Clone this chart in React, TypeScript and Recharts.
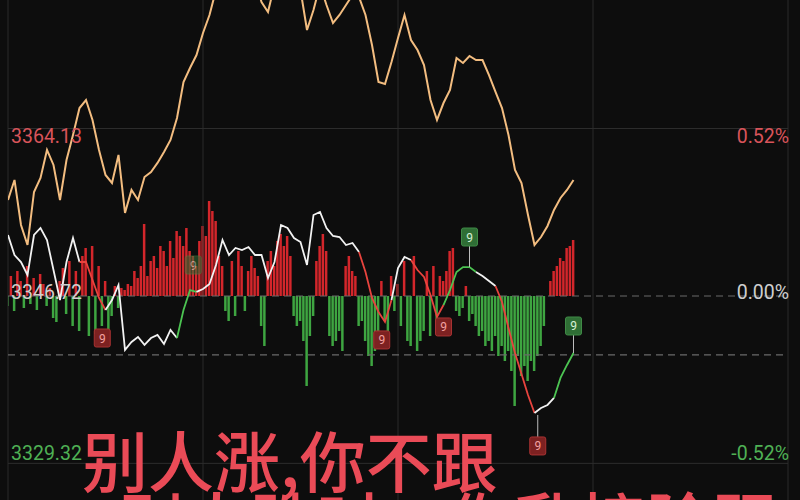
import React from 'react';
import { ComposedChart, Line, Bar, Cell, XAxis, YAxis, ReferenceLine, Scatter } from 'recharts';

const BASE = 3346.72;
const priceTicks = [3329.32, 3346.72, 3364.13];
const gridMinutes = [0, 60, 120, 180, 240];
const solidPrices = [3364.13, 3329.32];
const dashedPrices = [3346.72, 3340.6];

// orange line, one value every 2 minutes
const orange = [
  3356.70, 3358.78, 3354.10, 3352.02, 3357.53, 3358.99, 3361.90, 3360.34, 3356.70, 3360.86,
  3363.46, 3366.26, 3367.09, 3365.02, 3361.90, 3359.30, 3358.47, 3361.38, 3355.35, 3357.74,
  3356.70, 3359.09, 3359.61, 3360.55, 3361.69, 3362.94, 3365.22, 3368.97, 3370.42, 3371.77,
  3374.06, 3375.93, 3378.53, 3380.61, 3381.65, 3381.13, 3382.17, 3380.61, 3379.57, 3377.28,
  3376.24, 3379.05, 3380.61, 3381.13, 3380.09, 3378.53, 3374.37, 3376.45, 3379.05, 3376.97,
  3375.10, 3375.93, 3376.97, 3378.01, 3377.80, 3375.93, 3372.81, 3368.97, 3368.76, 3371.04,
  3373.54, 3375.93, 3373.33, 3372.29, 3370.73, 3367.09, 3365.02, 3366.78, 3368.13, 3371.46,
  3370.94, 3371.67, 3371.25, 3371.25, 3369.69, 3367.93, 3366.26, 3363.46, 3359.82, 3358.47,
  3355.14, 3352.02, 3352.85, 3354.00, 3355.66, 3356.91, 3357.74, 3358.78,
];

// main price line, one value every 2 minutes
const mainLine = [
  3353.06, 3350.98, 3350.25, 3348.90, 3353.06, 3353.79, 3352.54, 3349.42, 3346.30, 3350.25,
  3352.75, 3350.25, 3350.25, 3348.38, 3346.51, 3345.26, 3346.30, 3347.86, 3341.11, 3341.94,
  3342.46, 3341.63, 3342.35, 3342.67, 3341.73, 3343.19, 3342.35, 3345.26, 3347.34, 3347.14,
  3347.45, 3347.97, 3349.94, 3352.54, 3350.98, 3351.71, 3351.50, 3351.81, 3350.98, 3350.98,
  3348.59, 3350.25, 3354.10, 3353.79, 3352.75, 3352.33, 3349.94, 3355.14, 3355.45, 3353.79,
  3352.96, 3352.85, 3352.02, 3352.23, 3351.29, 3349.21, 3346.51, 3345.06, 3344.02, 3346.30,
  3349.63, 3350.77, 3350.46, 3349.42, 3348.70, 3346.82, 3344.54, 3345.78, 3347.34, 3349.21,
  3349.73, 3349.73, 3349.21, 3348.80, 3348.28, 3347.76, 3346.10, 3343.39, 3340.79, 3338.61,
  3336.43, 3334.56, 3335.08, 3335.39, 3336.12, 3338.20, 3339.55, 3340.79,
];

// colour segments of the main line (indices into mainLine)
const lineSegments = [
  { color: '#f2f2f2', from: 0, to: 11 },
  { color: '#e8443e', from: 11, to: 15 },
  { color: '#f2f2f2', from: 15, to: 26 },
  { color: '#4cc452', from: 26, to: 29 },
  { color: '#f2f2f2', from: 29, to: 54 },
  { color: '#e8443e', from: 54, to: 59 },
  { color: '#f2f2f2', from: 59, to: 62 },
  { color: '#e8443e', from: 62, to: 67 },
  { color: '#4cc452', from: 67, to: 72 },
  { color: '#f2f2f2', from: 72, to: 75 },
  { color: '#e8443e', from: 75, to: 81 },
  { color: '#f2f2f2', from: 81, to: 84 },
  { color: '#4cc452', from: 84, to: 87 },
];

// per-minute net flow bars (positive red, negative green)
const bars = [
  -10, 20, -15, 25, 15, -12, 30, -8, 18, -14,
  22, 12, -10, 8, -22, -26, 15, 28, -18, 35,
  -30, 25, -35, 40, 48, -40, 50, -38, 30, -30,
  15, -34, -20, 10, -12, 8, 6, 12, 10, 25,
  18, 30, 72, 20, 35, 40, 28, 50, 45, 30,
  55, 38, 65, 60, 50, 68, 45, 40, 30, 55,
  70, 60, 95, 85, 75, 40, 30, -15, -25, 35,
  -20, 45, 30, -15, 25, 40, 28, 20, -30, -50,
  35, 45, 30, 55, 62, 50, 60, 40, -20, -30,
  -25, -45, -90, -40, -20, 35, 50, 62, 45, -40,
  -50, -45, -35, -55, 30, 40, 25, 20, -30, -25,
  -45, -60, -70, -55, -40, 15, -25, -35, 20, -15,
  12, -30, 35, -45, -50, 40, -55, -45, -35, 25,
  -40, 30, -25, 20, 15, 25, 45, 48, -15, -20,
  -12, 10, -25, -18, -30, -40, -35, -50, -45, -55,
  -40, -60, -50, -65, -55, -75, -110, -60, -80, -70,
  -85, -65, -75, -60, -50, -30, 0, 15, 25, 30,
  38, 35, 48, 50, 56,
];

const markers = [
  { i: 29, p: 3342.35, kind: 'r', dim: false },
  { i: 57, p: 3349.94, kind: 'g', dim: true },
  { i: 115, p: 3342.15, kind: 'r', dim: false },
  { i: 134, p: 3343.5, kind: 'r', dim: false },
  { i: 142, p: 3352.85, kind: 'g', dim: false },
  { i: 163, p: 3331.13, kind: 'r', dim: false },
  { i: 174, p: 3343.6, kind: 'g', dim: false },
];

const connectors = [
  { i: 142, from: 3349.73, to: 3352.85 },
  { i: 163, from: 3334.35, to: 3331.13 },
  { i: 174, from: 3340.79, to: 3343.6 },
];

type Row = { [k: string]: number | undefined };
const rows: Row[] = bars.map((b, i) => {
  const r: Row = { i, bar: b };
  if (i % 2 === 0) r.orange = orange[i / 2];
  return r;
});
lineSegments.forEach((s, n) => {
  for (let k = s.from; k <= s.to; k++) {
    rows[k * 2][`s${n}`] = mainLine[k];
  }
});

const PriceTick = (props: any) => {
  const { y, payload } = props;
  const v = payload.value as number;
  const pct = (v / BASE - 1) * 100;
  const pctText = (pct < -0.001 ? '-' : '') + Math.abs(pct).toFixed(2) + '%';
  const up = v > BASE + 0.01;
  const down = v < BASE - 0.01;
  const color = up ? '#d9545a' : down ? '#4fb155' : '#cfcfcf';
  const dy = up ? 14 : down ? -3 : 3;
  const style = { fontFamily: 'Roboto, sans-serif', fontSize: 19.5 };
  return (
    <g>
      <text x={11} y={y + dy} fill={color} textAnchor="start" style={style}>{v.toFixed(2)}</text>
      <text x={789} y={y + dy} fill={color} textAnchor="end" style={style}>{pctText}</text>
    </g>
  );
};

const MarkerShape = (props: any) => {
  const { cx, cy, payload } = props;
  if (cx == null || cy == null) return null;
  const red = payload.kind === 'r';
  const fill = red ? '#7d2121' : '#2f6e35';
  const stroke = red ? '#a83232' : '#3f8a46';
  const txt = red ? '#f3a0a0' : '#d6f0d6';
  return (
    <g opacity={payload.dim ? 0.55 : 1}>
      <rect x={cx - 8} y={cy - 9} width={16} height={18} rx={2} fill={fill} stroke={stroke} strokeWidth={1} />
      <text x={cx} y={cy + 4.5} textAnchor="middle" fill={txt} style={{ fontFamily: 'Roboto, sans-serif', fontSize: 12 }}>9</text>
    </g>
  );
};

export default function App() {
  return (
    <div style={{ position: 'fixed', left: 0, top: 0, width: 800, height: 500, background: '#0d0d0d', overflow: 'hidden' }}>
      <ComposedChart width={800} height={500} data={rows} margin={{ top: 0, right: 12, bottom: 0, left: 8 }}>
        <XAxis dataKey="i" type="number" domain={[0, 240]} hide allowDataOverflow />
        <YAxis
          yAxisId="p"
          domain={[3325.51, 3377.49]}
          allowDataOverflow
          ticks={priceTicks}
          interval={0}
          mirror
          axisLine={false}
          tickLine={false}
          tick={<PriceTick />}
          width={60}
        />
        <YAxis yAxisId="b" domain={[-204, 296]} hide allowDataOverflow />
        {gridMinutes.map((m) => (
          <ReferenceLine key={`v${m}`} x={m} yAxisId="p" stroke="#2a2a2a" strokeWidth={1} />
        ))}
        {solidPrices.map((p) => (
          <ReferenceLine key={`h${p}`} y={p} yAxisId="p" stroke="#2c2c2c" strokeWidth={1} />
        ))}
        {dashedPrices.map((p) => (
          <ReferenceLine key={`d${p}`} y={p} yAxisId="p" stroke="#6a6a6a" strokeWidth={1.2} strokeDasharray="7 5" />
        ))}
        <Bar dataKey="bar" yAxisId="b" barSize={2.5} isAnimationActive={false}>
          {rows.map((r, idx) => (
            <Cell key={idx} fill={(r.bar as number) >= 0 ? '#d3262b' : '#3ea541'} />
          ))}
        </Bar>
        <Line
          dataKey="orange"
          yAxisId="p"
          type="linear"
          stroke="#f3bd80"
          strokeWidth={2}
          dot={false}
          connectNulls
          isAnimationActive={false}
        />
        {lineSegments.map((s, n) => (
          <Line
            key={`s${n}`}
            dataKey={`s${n}`}
            yAxisId="p"
            type="linear"
            stroke={s.color}
            strokeWidth={1.8}
            dot={false}
            connectNulls
            isAnimationActive={false}
          />
        ))}
        {connectors.map((c) => (
          <ReferenceLine
            key={`c${c.i}`}
            yAxisId="p"
            segment={[{ x: c.i, y: c.from }, { x: c.i, y: c.to }]}
            stroke="#bdbdbd"
            strokeWidth={1}
          />
        ))}
        <Scatter data={markers} dataKey="p" yAxisId="p" shape={<MarkerShape />} isAnimationActive={false} />
      </ComposedChart>
      <svg width={800} height={500} style={{ position: 'absolute', left: 0, top: 0, pointerEvents: 'none' }}>
        <text x={82} y={487} fill="#ea4b57" style={{ fontFamily: '"Noto Sans CJK SC", sans-serif', fontSize: 66, fontWeight: 500 }}>
          别人涨,你不跟
        </text>
        <text x={118} y={548} fill="#ea4b57" style={{ fontFamily: '"Noto Sans CJK SC", sans-serif', fontSize: 66, fontWeight: 500 }}>
          别人跌时，你乱接险跟
        </text>
      </svg>
    </div>
  );
}
